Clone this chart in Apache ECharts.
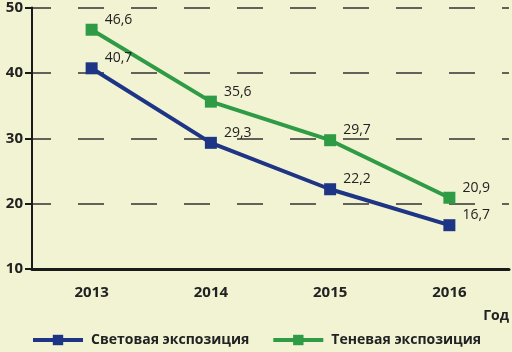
<!DOCTYPE html>
<html><head><meta charset="utf-8">
<script src="https://cdn.jsdelivr.net/npm/echarts@6/dist/echarts.min.js"></script>
<style>html,body{margin:0;padding:0;background:#f1f3d3;}#c{width:512px;height:352px;}</style>
</head><body><div id="c"></div>
<script>
const categories = ['2013','2014','2015','2016'];
const lightValues = [40.7, 29.3, 22.2, 16.7];
const shadowValues = [46.6, 35.6, 29.7, 20.9];
const seriesNames = ['Световая экспозиция','Теневая экспозиция'];
const yTicks = [10, 20, 30, 40, 50];
const fmt = v => String(v).replace('.', ',');
const chart = echarts.init(document.getElementById('c'));
const font = '"Open Sans", "Noto Sans", sans-serif';
function ser(name, data, color) {
  return {
    name, type: 'line', data,
    symbol: 'rect', symbolSize: 12,
    lineStyle: {color, width: 4},
    itemStyle: {color},
    label: {show: true, position: [19, -11], formatter: p => fmt(p.value),
      color: '#222', fontSize: 14, fontFamily: font},
    z: 3
  };
}
chart.setOption({
  backgroundColor: '#f1f3d3',
  animation: false,
  grid: {left: 32, right: 3, top: 5, bottom: 83},
  xAxis: {
    type: 'category', data: categories, boundaryGap: true,
    name: 'Год', nameLocation: 'end',
    nameGap: 0,
    nameTextStyle: {fontWeight: 'bold', fontSize: 14, color: '#222', fontFamily: font,
      align: 'right', verticalAlign: 'top', padding: [40, 0, 0, 0]},
    axisLine: {lineStyle: {color: '#1a1a1a', width: 3}},
    axisTick: {show: false},
    axisLabel: {fontWeight: 'bold', fontSize: 15, color: '#222', fontFamily: font, margin: 16}
  },
  yAxis: {
    type: 'value', min: 10, max: 50, interval: 10,
    axisLine: {show: true, lineStyle: {color: '#1a1a1a', width: 2}},
    axisTick: {show: true, length: 7, lineStyle: {color: '#1a1a1a', width: 2}},
    axisLabel: {fontWeight: 'bold', fontSize: 15, color: '#222', fontFamily: font, margin: 9,
      formatter: v => yTicks.includes(v) ? String(v) : ''},
    splitLine: {show: true, lineStyle: {color: '#333', width: 1.5, type: [26, 27], dashOffset: 7}}
  },
  legend: {
    orient: 'horizontal', bottom: 0, left: 26, width: 490, itemGap: 22, itemWidth: 50, itemHeight: 13,
    lineStyle: {width: 4},
    textStyle: {fontWeight: 'bold', fontSize: 14, color: '#222', fontFamily: font, padding: [0, 0, 0, 3]},
    data: seriesNames
  },
  series: [
    ser(seriesNames[0], lightValues, '#1d3584'),
    ser(seriesNames[1], shadowValues, '#2f9b45')
  ]
});
</script></body></html>
